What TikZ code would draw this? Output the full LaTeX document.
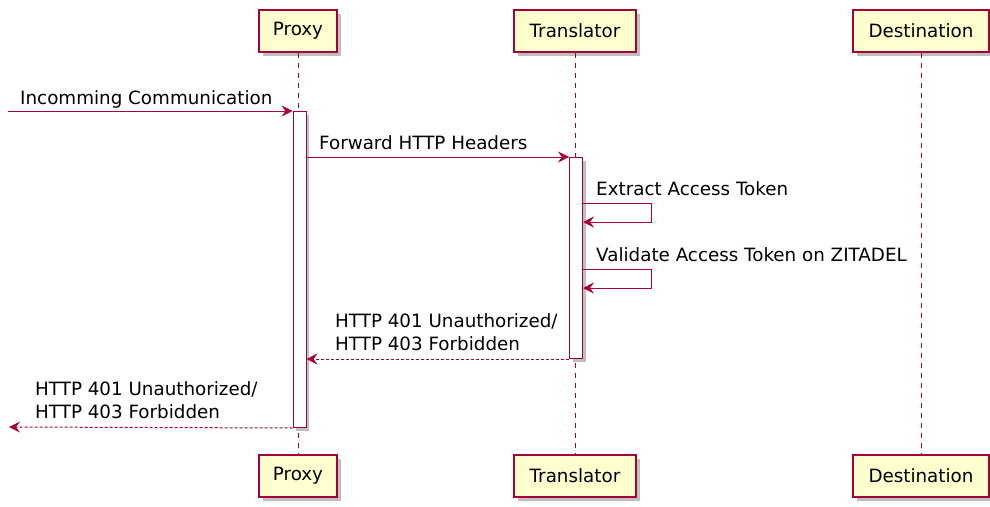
\documentclass[tikz,border=0pt]{standalone}
\usepackage{fontspec}
\setmainfont{DejaVu Sans}
\usetikzlibrary{arrows.meta, positioning, calc, shadows}
\definecolor{umlred}{HTML}{A80036}
\definecolor{umlfill}{HTML}{FEFECE}

\begin{document}
\begin{tikzpicture}[
        x=1pt, y=-1pt,
        box/.style={rectangle, draw=umlred, line width=1.2pt, fill=umlfill, minimum height=42pt, inner sep=0pt, font=\fontsize{18.3}{22}\selectfont, drop shadow={shadow xshift=4pt, shadow yshift=-4pt, opacity=0.5}},
        bar/.style={rectangle, draw=umlred, line width=1pt, fill=white, minimum width=13pt, inner sep=0pt, drop shadow={shadow xshift=3pt, shadow yshift=-3pt, opacity=0.5}},
        lifeline/.style={draw=umlred, line width=1pt, dash pattern=on 5pt off 5pt},
        arrow/.style={-{Stealth[length=11pt, width=11pt, inset=4pt]}, draw=umlred, line width=1pt},
        reply/.style={arrow, dash pattern=on 3pt off 2pt},
        msg/.style={anchor=base west, inner sep=0pt, font=\fontsize{18.3}{23}\selectfont, align=left}
    ]
        \useasboundingbox (0,0) rectangle (990,506);

        % participants
        \node[box, minimum width=78pt] (proxy) at (298,31) {Proxy};
        \node[box, minimum width=122pt] (translator) at (575,31) {Translator};
        \node[box, minimum width=136pt] (destination) at (921,31) {Destination};
        \node[box, minimum width=78pt] (proxy_b) at (298,476) {Proxy};
        \node[box, minimum width=122pt] (translator_b) at (575,476) {Translator};
        \node[box, minimum width=136pt] (destination_b) at (921,476) {Destination};

        \draw[lifeline] (proxy) -- (proxy_b);
        \draw[lifeline] (translator) -- (translator_b);
        \draw[lifeline] (destination) -- (destination_b);

        % activations
        \node[bar, minimum height=316pt, anchor=north] (proxy_act) at (299.5,111) {};
        \node[bar, minimum height=201pt, anchor=north] (translator_act) at (576,157) {};

        % free ends
        \coordinate (in_start) at (8,111);
        \coordinate (out_end) at (9,427);
        \coordinate (extract_a) at (651,203);
        \coordinate (extract_b) at (651,222);
        \coordinate (validate_a) at (651,269);
        \coordinate (validate_b) at (651,288);

        % messages
        \draw[arrow] (in_start) -- (in_start -| proxy_act.west);
        \node[msg] (in_lbl) at (20,104) {Incomming Communication};

        \draw[arrow] (proxy_act.east |- 0,157) -- (translator_act.north west);
        \node[msg] (fwd_lbl) at (319,149) {Forward HTTP Headers};

        \draw[arrow] (translator_act.east |- extract_a) -- (extract_a) -- (extract_b) -- (translator_act.east |- extract_b);
        \node[msg] (extract_lbl) at (596,195) {Extract Access Token};

        \draw[arrow] (translator_act.east |- validate_a) -- (validate_a) -- (validate_b) -- (translator_act.east |- validate_b);
        \node[msg] (validate_lbl) at (596,261) {Validate Access Token on ZITADEL};

        \draw[reply] (translator_act.south west) -- (proxy_act.east |- translator_act.south);
        \node[msg] (deny_lbl) at (335,350) {HTTP 401 Unauthorized/\\HTTP 403 Forbidden};

        \draw[reply] (proxy_act.south west) -- (out_end);
        \node[msg] (out_lbl) at (35,418) {HTTP 401 Unauthorized/\\HTTP 403 Forbidden};

    \end{tikzpicture}
\end{document}
